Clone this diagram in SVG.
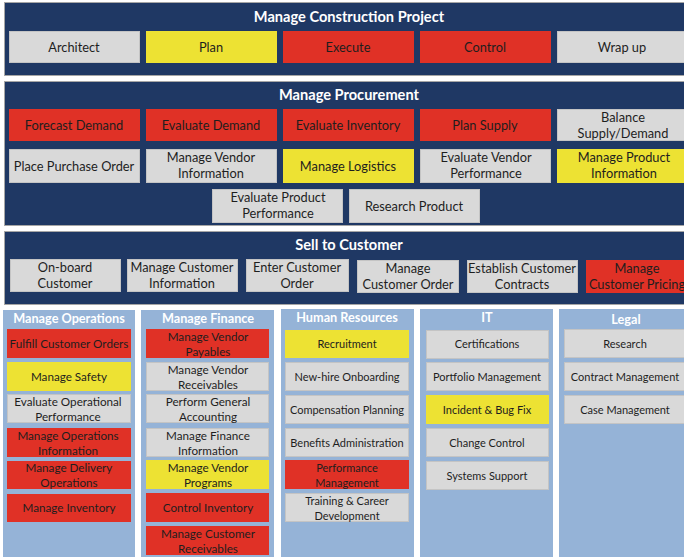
<svg xmlns="http://www.w3.org/2000/svg" width="684" height="557" viewBox="0 0 684 557">
  <style>
    .dk { fill: #1f3864; stroke: #a6a6a6; stroke-width: 1; }
    .lb { fill: #95b3d7; }
    .r { fill: #e03126; }
    .y { fill: #ede233; }
    .g { fill: #d9d9d9; stroke: #c4c4c4; stroke-width: 1; }
    text { font-family: Lato, "Open Sans", "Liberation Sans", sans-serif; text-anchor: middle; fill: #1e1e1e; }
    .h { font-weight: bold; fill: #ffffff; font-size: 14.6px; }
    .hs { font-weight: bold; fill: #ffffff; font-size: 12.7px; }
    .t { font-size: 12.8px; }
    .s { font-size: 11.7px; }
    .xs { font-size: 11px; }
  </style>
  <rect width="684" height="557" fill="#ffffff"/>

  <!-- Manage Construction Project -->
  <g id="construction">
    <rect class="dk" x="4.5" y="2.5" width="690" height="73"/>
    <text class="h" x="349" y="22">Manage Construction Project</text>
    <g id="architect"><rect class="g" x="9.5" y="31.5" width="130" height="31"/><text class="t" x="74" y="51.5">Architect</text></g>
    <g id="plan"><rect class="y" x="146" y="31" width="131" height="32"/><text class="t" x="211" y="51.5">Plan</text></g>
    <g id="execute"><rect class="r" x="283" y="31" width="131" height="32"/><text class="t" x="348" y="51.5">Execute</text></g>
    <g id="control"><rect class="r" x="420" y="31" width="131" height="32"/><text class="t" x="485" y="51.5">Control</text></g>
    <g id="wrap-up"><rect class="g" x="557.5" y="31.5" width="140" height="31"/><text class="t" x="622" y="51.5">Wrap up</text></g>
  </g>

  <!-- Manage Procurement -->
  <g id="procurement">
    <rect class="dk" x="4.5" y="81.5" width="690" height="144"/>
    <text class="h" x="349" y="100">Manage Procurement</text>
    <g id="forecast-demand"><rect class="r" x="9" y="109" width="131" height="32"/><text class="t" x="74" y="129.5">Forecast Demand</text></g>
    <g id="evaluate-demand"><rect class="r" x="146" y="109" width="131" height="32"/><text class="t" x="211" y="129.5">Evaluate Demand</text></g>
    <g id="evaluate-inventory"><rect class="r" x="283" y="109" width="131" height="32"/><text class="t" x="348" y="129.5">Evaluate Inventory</text></g>
    <g id="plan-supply"><rect class="r" x="420" y="109" width="131" height="32"/><text class="t" x="485" y="129.5">Plan Supply</text></g>
    <g id="balance"><rect class="g" x="557.5" y="109.5" width="140" height="31"/><text class="t" x="623" y="121.5">Balance<tspan x="623" dy="16">Supply/Demand</tspan></text></g>

    <g id="place-po"><rect class="g" x="9.5" y="149.5" width="130" height="33"/><text class="t" x="74" y="170.5">Place Purchase Order</text></g>
    <g id="vendor-info"><rect class="g" x="146.5" y="149.5" width="130" height="33"/><text class="t" x="211" y="162">Manage Vendor<tspan x="211" dy="16">Information</tspan></text></g>
    <g id="logistics"><rect class="y" x="283" y="149" width="131" height="34"/><text class="t" x="348" y="170.5">Manage Logistics</text></g>
    <g id="vendor-perf"><rect class="g" x="420.5" y="149.5" width="130" height="33"/><text class="t" x="486" y="162">Evaluate Vendor<tspan x="486" dy="16">Performance</tspan></text></g>
    <g id="product-info"><rect class="y" x="557" y="149" width="140" height="34"/><text class="t" x="624" y="162">Manage Product<tspan x="624" dy="16">Information</tspan></text></g>

    <g id="product-perf"><rect class="g" x="212.5" y="189.5" width="130" height="33"/><text class="t" x="278" y="202">Evaluate Product<tspan x="278" dy="16">Performance</tspan></text></g>
    <g id="research-product"><rect class="g" x="349.5" y="189.5" width="130" height="33"/><text class="t" x="414" y="210.5">Research Product</text></g>
  </g>

  <!-- Sell to Customer -->
  <g id="sell">
    <rect class="dk" x="4.5" y="231.5" width="690" height="73"/>
    <text class="h" x="349" y="250">Sell to Customer</text>
    <g id="onboard"><rect class="g" x="10.5" y="259.5" width="110" height="32"/><text class="t" x="65" y="271.5">On-board<tspan x="65" dy="16">Customer</tspan></text></g>
    <g id="cust-info"><rect class="g" x="127.5" y="259.5" width="110" height="32"/><text class="t" x="182" y="271.5">Manage Customer<tspan x="182" dy="16">Information</tspan></text></g>
    <g id="enter-order"><rect class="g" x="246.5" y="259.5" width="102" height="32"/><text class="t" x="297" y="271.5">Enter Customer<tspan x="297" dy="16">Order</tspan></text></g>
    <g id="cust-order"><rect class="g" x="357.5" y="260.5" width="101" height="32"/><text class="t" x="408" y="272.5">Manage<tspan x="408" dy="16">Customer Order</tspan></text></g>
    <g id="contracts"><rect class="g" x="467.5" y="260.5" width="110" height="32"/><text class="t" x="522" y="272.5">Establish Customer<tspan x="522" dy="16">Contracts</tspan></text></g>
    <g id="pricing"><rect class="r" x="586" y="260" width="110" height="33"/><text class="t" x="637" y="272.5">Manage<tspan x="637" dy="16">Customer Pricing</tspan></text></g>
  </g>

  <!-- Manage Operations -->
  <g id="operations">
    <rect class="lb" x="3" y="310" width="132" height="247"/>
    <text class="hs" x="69" y="323">Manage Operations</text>
    <g id="fulfill"><rect class="r" x="7" y="329" width="124" height="29"/><text class="s" x="69" y="347.5">Fulfill Customer Orders</text></g>
    <g id="safety"><rect class="y" x="7" y="362" width="124" height="29"/><text class="s" x="69" y="380.5">Manage Safety</text></g>
    <g id="op-perf"><rect class="g" x="7.5" y="394.5" width="123" height="28"/><text class="s" x="68" y="406">Evaluate Operational<tspan x="68" dy="15">Performance</tspan></text></g>
    <g id="ops-info"><rect class="r" x="7" y="428" width="124" height="29"/><text class="s" x="68" y="439.5">Manage Operations<tspan x="68" dy="15">Information</tspan></text></g>
    <g id="delivery"><rect class="r" x="7" y="461" width="124" height="28"/><text class="s" x="69" y="472">Manage Delivery<tspan x="69" dy="15">Operations</tspan></text></g>
    <g id="inventory"><rect class="r" x="7" y="494" width="124" height="28"/><text class="s" x="69" y="512">Manage Inventory</text></g>
  </g>

  <!-- Manage Finance -->
  <g id="finance">
    <rect class="lb" x="141" y="310" width="133" height="247"/>
    <text class="hs" x="208" y="323">Manage Finance</text>
    <g id="payables"><rect class="r" x="146" y="329" width="123" height="29"/><text class="s" x="208" y="340.5">Manage Vendor<tspan x="208" dy="15">Payables</tspan></text></g>
    <g id="vendor-recv"><rect class="g" x="146.5" y="362.5" width="122" height="28"/><text class="s" x="208" y="373.5">Manage Vendor<tspan x="208" dy="15">Receivables</tspan></text></g>
    <g id="accounting"><rect class="g" x="146.5" y="394.5" width="122" height="28"/><text class="s" x="208" y="406">Perform General<tspan x="208" dy="15">Accounting</tspan></text></g>
    <g id="fin-info"><rect class="g" x="146.5" y="428.5" width="122" height="28"/><text class="s" x="208" y="439.5">Manage Finance<tspan x="208" dy="15">Information</tspan></text></g>
    <g id="vendor-prog"><rect class="y" x="146" y="460" width="123" height="29"/><text class="s" x="208" y="472">Manage Vendor<tspan x="208" dy="15">Programs</tspan></text></g>
    <g id="control-inv"><rect class="r" x="146" y="493" width="123" height="29"/><text class="s" x="208" y="512">Control Inventory</text></g>
    <g id="cust-recv"><rect class="r" x="146" y="526" width="123" height="29"/><text class="s" x="208" y="537.5">Manage Customer<tspan x="208" dy="15">Receivables</tspan></text></g>
  </g>

  <!-- Human Resources -->
  <g id="hr">
    <rect class="lb" x="281" y="309" width="133" height="248"/>
    <text class="hs" x="347" y="322">Human Resources</text>
    <g id="recruitment"><rect class="y" x="285" y="330" width="124" height="28"/><text class="xs" x="347" y="348">Recruitment</text></g>
    <g id="onboarding"><rect class="g" x="285.5" y="362.5" width="123" height="28"/><text class="xs" x="347" y="381">New-hire Onboarding</text></g>
    <g id="compensation"><rect class="g" x="285.5" y="395.5" width="123" height="28"/><text class="xs" x="347" y="414">Compensation Planning</text></g>
    <g id="benefits"><rect class="g" x="285.5" y="428.5" width="123" height="28"/><text class="xs" x="347" y="446.5">Benefits Administration</text></g>
    <g id="performance"><rect class="r" x="285" y="460" width="124" height="29"/><text class="xs" x="347" y="471.5">Performance<tspan x="347" dy="15">Management</tspan></text></g>
    <g id="training"><rect class="g" x="285.5" y="493.5" width="123" height="28"/><text class="xs" x="347" y="504.5">Training &amp; Career<tspan x="347" dy="15">Development</tspan></text></g>
  </g>

  <!-- IT -->
  <g id="it">
    <rect class="lb" x="420" y="309" width="133" height="248"/>
    <text class="hs" x="487" y="322">IT</text>
    <g id="certifications"><rect class="g" x="426.5" y="330.5" width="122" height="28"/><text class="xs" x="487" y="348">Certifications</text></g>
    <g id="portfolio"><rect class="g" x="426.5" y="362.5" width="122" height="28"/><text class="xs" x="487" y="381">Portfolio Management</text></g>
    <g id="incident"><rect class="y" x="426" y="395" width="123" height="29"/><text class="xs" x="487" y="414">Incident &amp; Bug Fix</text></g>
    <g id="change-control"><rect class="g" x="426.5" y="428.5" width="122" height="28"/><text class="xs" x="487" y="446.5">Change Control</text></g>
    <g id="systems-support"><rect class="g" x="426.5" y="461.5" width="122" height="28"/><text class="xs" x="487" y="479.5">Systems Support</text></g>
  </g>

  <!-- Legal -->
  <g id="legal">
    <rect class="lb" x="559" y="309" width="130" height="248"/>
    <text class="hs" x="626" y="324">Legal</text>
    <g id="research"><rect class="g" x="564.5" y="329.5" width="130" height="28"/><text class="xs" x="625" y="347.5">Research</text></g>
    <g id="contract-mgmt"><rect class="g" x="564.5" y="362.5" width="130" height="28"/><text class="xs" x="625" y="381">Contract Management</text></g>
    <g id="case-mgmt"><rect class="g" x="564.5" y="395.5" width="130" height="28"/><text class="xs" x="625" y="413.5">Case Management</text></g>
  </g>
</svg>
